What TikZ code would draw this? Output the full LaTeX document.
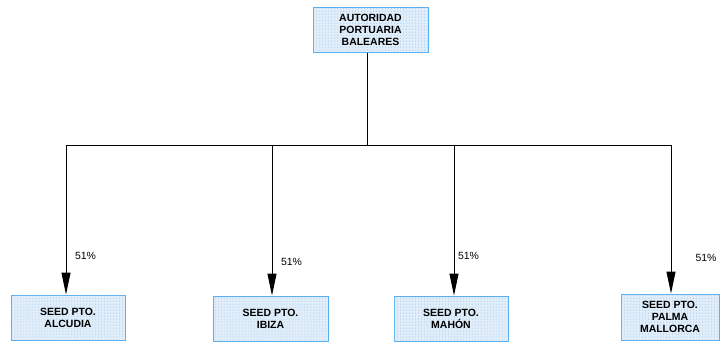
\documentclass[tikz,border=0pt]{standalone}
\usepackage{fontspec}
\setmainfont{Liberation Sans}
\usetikzlibrary{arrows.meta,patterns}
\definecolor{boxline}{RGB}{90,175,240}
\definecolor{boxfill}{RGB}{225,238,250}
\definecolor{dotcol}{RGB}{150,195,235}
\begin{document}
\begin{tikzpicture}[x=1bp,y=-1bp,
  orgbox/.style={draw=boxline,line width=1pt,fill=boxfill,
    postaction={pattern=dots,pattern color=dotcol},
    align=center,font=\bfseries\fontsize{10.5}{12}\selectfont,inner sep=0pt},
  conn/.style={line width=0.9pt,black},
  arr/.style={conn,-{Triangle[length=22pt,width=9pt]}},
  pct/.style={font=\fontsize{10.5}{12}\selectfont,inner sep=0pt}]
\useasboundingbox (0,0) rectangle (721,343);
\node[orgbox,minimum width=115bp,minimum height=45bp] (apb) at (370.5,29.5) {AUTORIDAD\\PORTUARIA\\BALEARES};
\node[orgbox,minimum width=114bp,minimum height=45bp] (alc) at (68,317.5) {SEED PTO.\\ALCUDIA};
\node[orgbox,minimum width=115bp,minimum height=45bp] (ibi) at (270.5,318.5) {SEED PTO.\\IBIZA};
\node[orgbox,minimum width=114bp,minimum height=45bp] (mah) at (451,318.5) {SEED PTO.\\MAHÓN};
\node[orgbox,minimum width=98bp,minimum height=46bp] (pal) at (670,317) {SEED PTO.\\PALMA\\MALLORCA};
\coordinate (j) at (367,145);
\coordinate (j1) at (66,145);
\coordinate (j2) at (272,145);
\coordinate (j3) at (454,145);
\coordinate (j4) at (671,145);
\draw[conn] (apb.south -| j) -- (j);
\draw[conn] (j1) -- (j4);
\draw[arr] (j1) -- (j1 |- alc.north);
\draw[arr] (j2) -- (j2 |- ibi.north);
\draw[arr] (j3) -- (j3 |- mah.north);
\draw[arr] (j4) -- (j4 |- pal.north);
\node[pct] (p1) at (85.5,256) {51\%};
\node[pct] (p2) at (291.5,262) {51\%};
\node[pct] (p3) at (468.5,256) {51\%};
\node[pct] (p4) at (706,258) {51\%};
\end{tikzpicture}
\end{document}
